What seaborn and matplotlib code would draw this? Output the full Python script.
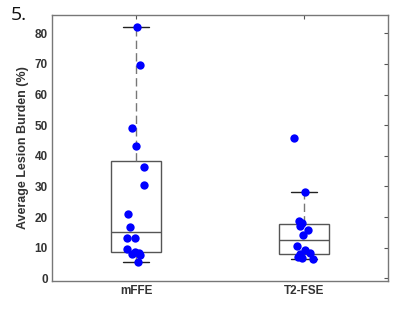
import numpy as np
import pandas as pd
import matplotlib
matplotlib.use("Agg")
import matplotlib.pyplot as plt
import seaborn as sns

# Values
categories = ["mFFE", "T2-FSE"]
mffe_values = [82.0, 69.8, 49.0, 43.3, 36.5, 30.6, 20.9, 16.9, 13.1, 13.1,
               9.6, 8.7, 8.3, 7.9, 7.5, 5.3]
t2fse_values = [45.8, 28.2, 18.6, 18.0, 17.2, 15.7, 14.3, 10.5, 9.3, 8.4,
                7.8, 7.0, 6.6, 6.3]
y_ticks = [0, 10, 20, 30, 40, 50, 60, 70, 80]

df = pd.DataFrame({
    "Sequence": [categories[0]] * len(mffe_values) + [categories[1]] * len(t2fse_values),
    "Burden": mffe_values + t2fse_values,
})

sns.set_style("white")
plt.rcParams["font.family"] = ["Liberation Sans", "DejaVu Sans"]

fig = plt.figure(figsize=(4.0, 3.12), dpi=100)
ax = fig.add_axes([0.13, 0.099, 0.84, 0.853])

line_col = "#555555"
sns.boxplot(data=df, x="Sequence", y="Burden", order=categories, ax=ax,
            width=0.3, whis=1.6, showfliers=False, color="white",
            linecolor=line_col, linewidth=1.0,
            whiskerprops=dict(linestyle=(0, (6, 3)), color="#777777"),
            capprops=dict(color="#222222"),
            medianprops=dict(color=line_col))

np.random.seed(3)
sns.stripplot(data=df, x="Sequence", y="Burden", order=categories, ax=ax,
              jitter=0.06, color="#0000ff", size=6, zorder=3)

ax.set_xlim(-0.5, 1.5)
ax.set_ylim(-0.9, 86)
ax.set_yticks(y_ticks)
ax.set_xlabel("")
ax.set_ylabel("Average Lesion Burden (%)", fontsize=9, fontweight="bold",
              color="#333333", labelpad=4)
ax.tick_params(direction="in", length=3, width=0.8, color=line_col,
               labelsize=8.5, labelcolor="#333333", top=True, right=True, pad=3)
for lab in ax.get_xticklabels() + ax.get_yticklabels():
    lab.set_fontweight("bold")
for sp in ax.spines.values():
    sp.set_visible(True)
    sp.set_color("#777777")
    sp.set_linewidth(1.0)

fig.text(0.028, 0.982, "5.", fontsize=14, ha="left", va="top",
         family=["Open Sans", "DejaVu Sans"], color="#111111")

fig.savefig("out.png", dpi=100)
